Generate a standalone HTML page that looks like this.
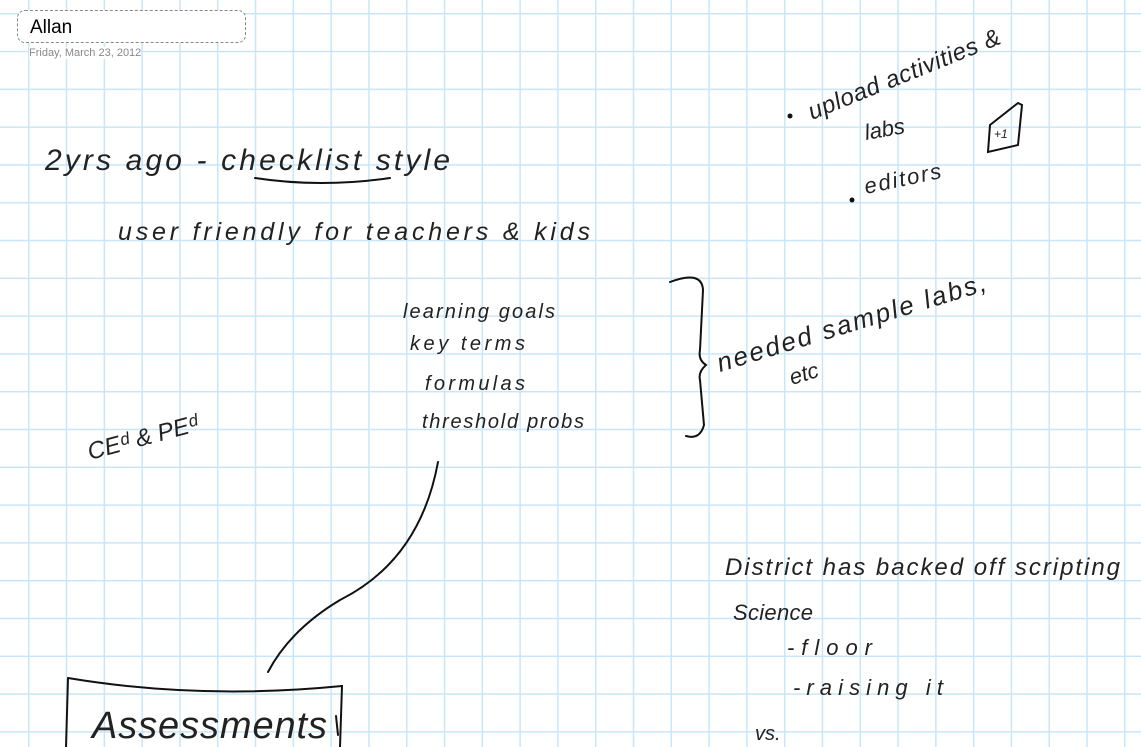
<!DOCTYPE html>
<html><head><meta charset="utf-8"><style>
html,body{margin:0;padding:0;}
body{width:1141px;height:747px;overflow:hidden;background:#fff;
background-image:linear-gradient(to right,#c8e6f8 1.5px,transparent 1.5px),linear-gradient(to bottom,#c8e6f8 1.5px,transparent 1.5px);
background-size:37.8px 37.8px;background-position:28px 13px;position:relative;font-family:"Liberation Sans",sans-serif;}
.title{position:absolute;left:17px;top:10px;width:229px;height:33px;border:1px dashed #888;border-radius:8px;background:#fff;box-sizing:border-box;}
.title span{position:absolute;left:12px;top:6px;font-size:19px;color:#000;}
.date{position:absolute;left:29px;top:47px;font-size:11px;color:#888;background:#fff;}
svg{position:absolute;left:0;top:0;}
svg text{font-family:"Liberation Sans",sans-serif;fill:#222;font-style:italic;}
</style></head><body>
<div class="title"><span>Allan</span></div>
<div class="date">Friday, March 23, 2012</div>
<svg width="1141" height="747" viewBox="0 0 1141 747">
<g fill="none" stroke="#111" stroke-width="2" stroke-linecap="round">
<path d="M255 178 Q320 188 390 178"/>
<path d="M670 282 Q702 270 703 290 L700 350 Q698 360 706 365 Q698 372 700 380 L704 425 Q700 440 686 436"/>
<path d="M438 462 Q420 560 340 600 Q290 630 268 672"/>
<path d="M68 678 Q200 700 342 686 L340 747"/>
<path d="M68 678 L66 747"/>
<path d="M990 125 L1018 103 L1022 105 L1018 145 L988 152 Z"/>
<path d="M336 716 L338 735"/>
</g>
<g fill="#111"><circle cx="790" cy="116" r="2.5"/><circle cx="852" cy="200" r="2.5"/></g>
<text x="45" y="170" font-size="30" textLength="405" lengthAdjust="spacing">2yrs ago  -  checklist style</text>
<text x="118" y="240" font-size="25" textLength="472" lengthAdjust="spacing">user friendly  for teachers &amp; kids</text>
<text x="403" y="318" font-size="20" textLength="152" lengthAdjust="spacing">learning goals</text>
<text x="410" y="350" font-size="20" textLength="115" lengthAdjust="spacing">key terms</text>
<text x="425" y="390" font-size="20" textLength="100" lengthAdjust="spacing">formulas</text>
<text x="422" y="428" font-size="20" textLength="162" lengthAdjust="spacing">threshold probs</text>
<text x="90" y="460" font-size="24" transform="rotate(-15 90 460)">CE&#7496; &amp; PE&#7496;</text>
<text x="720" y="372" font-size="26" transform="rotate(-17 720 372)" textLength="280" lengthAdjust="spacing">needed sample labs,</text>
<text x="792" y="385" font-size="22" transform="rotate(-17 792 385)">etc</text>
<text x="812" y="120" font-size="24" transform="rotate(-22 812 120)" textLength="205" lengthAdjust="spacing">upload activities &amp;</text>
<text x="866" y="140" font-size="22" transform="rotate(-10 866 140)">labs</text>
<text x="866" y="194" font-size="22" transform="rotate(-12 866 194)" textLength="78" lengthAdjust="spacing">editors</text>
<text x="994" y="138" font-size="12">+1</text>
<text x="725" y="575" font-size="24" textLength="395" lengthAdjust="spacing">District has backed off scripting</text>
<text x="733" y="620" font-size="22" textLength="80" lengthAdjust="spacing">Science</text>
<text x="787" y="655" font-size="22" textLength="85" lengthAdjust="spacing">-floor</text>
<text x="793" y="695" font-size="22" textLength="150" lengthAdjust="spacing">-raising it</text>
<text x="755" y="740" font-size="20">vs.</text>
<text x="92" y="738" font-size="38" textLength="235" lengthAdjust="spacing">Assessments</text>
</svg>
</body></html>
